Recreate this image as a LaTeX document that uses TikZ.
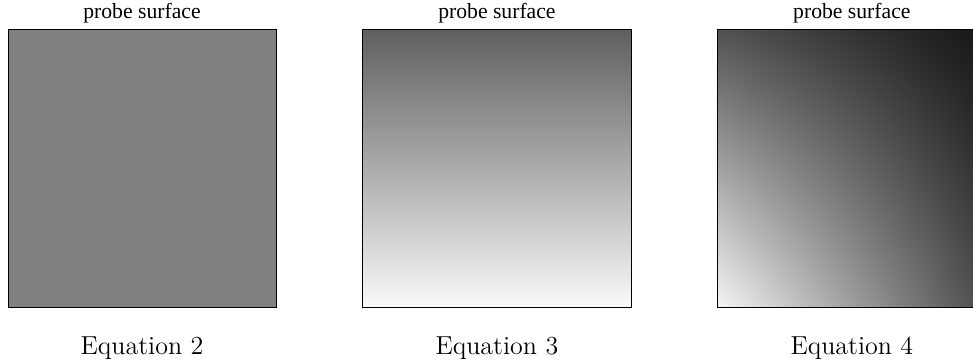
\documentclass[tikz,border=0pt]{standalone}
\usepackage{fontspec}
\newfontfamily\probefont{Liberation Serif}
\usepackage{tikz}
\usetikzlibrary{positioning,shadings}

\begin{document}
\begin{tikzpicture}[x=0.4615pt,y=-0.4615pt,
  panel/.style={draw,inner sep=0pt,minimum width=123.7pt,minimum height=128.3pt},
  top/.style={font=\probefont\fontsize{10}{12}\selectfont,inner sep=0pt},
  eqn/.style={font=\fontsize{12}{14}\selectfont,inner sep=0pt}]
\useasboundingbox (0,0) rectangle (973,363);
% the three surfaces
\node[panel,fill=black!50] (p1) at (142,168.25) {};
\node[panel,right=39.7pt of p1,top color=black!63,bottom color=black!2] (p2) {};
\node[panel,right=39.7pt of p2,upper left=black!68,upper right=black!92,
  lower left=black!4,lower right=black!71] (p3) {};
% labels
\node[top,above=2.4pt of p1] (t1) {probe surface};
\node[top,above=2.4pt of p2] (t2) {probe surface};
\node[top,above=2.4pt of p3] (t3) {probe surface};
\node[eqn,below=13.4pt of p1] (e1) {Equation 2};
\node[eqn,below=13.4pt of p2] (e2) {Equation 3};
\node[eqn,below=13.4pt of p3] (e3) {Equation 4};
\end{tikzpicture}
\end{document}
